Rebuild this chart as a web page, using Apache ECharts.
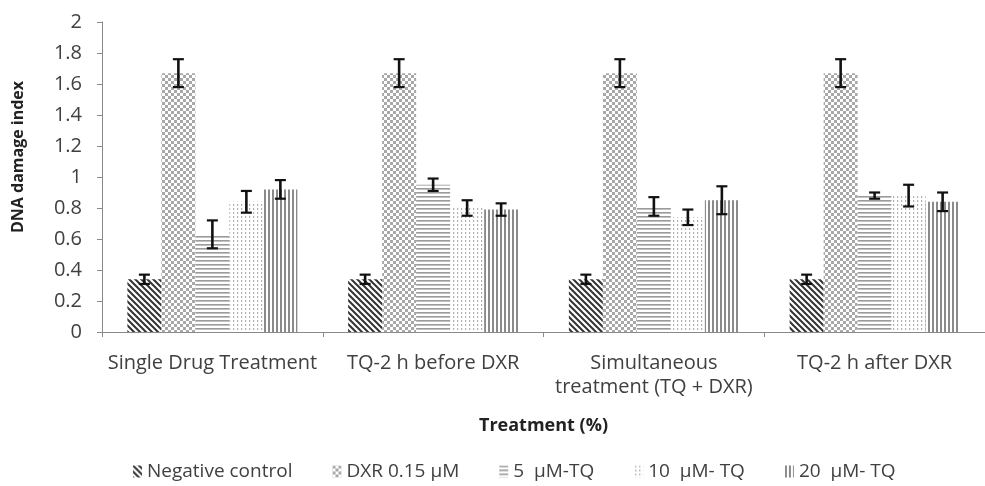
<!DOCTYPE html>
<html>
<head>
<meta charset="utf-8">
<script src="https://cdn.jsdelivr.net/npm/echarts@6/dist/echarts.min.js"></script>
<style>html,body{margin:0;padding:0;background:#fff}#c{width:985px;height:486px}</style>
</head>
<body>
<div id="c"></div>
<script>
const categories = ['Single Drug Treatment', 'TQ-2 h before DXR', 'Simultaneous\ntreatment (TQ + DXR)', 'TQ-2 h after DXR'];
const seriesNames = ['Negative control', 'DXR 0.15 \u00b5M', '5  \u00b5M-TQ', '10  \u00b5M- TQ', '20  \u00b5M- TQ'];
const negControl = [0.34, 0.34, 0.34, 0.34];
const dxr = [1.67, 1.67, 1.67, 1.67];
const tq5 = [0.63, 0.95, 0.81, 0.88];
const tq10 = [0.84, 0.80, 0.74, 0.88];
const tq20 = [0.92, 0.79, 0.85, 0.84];
const negErr = [0.03, 0.03, 0.03, 0.03];
const dxrErr = [0.09, 0.09, 0.09, 0.09];
const tq5Err = [0.09, 0.04, 0.06, 0.02];
const tq10Err = [0.07, 0.05, 0.05, 0.07];
const tq20Err = [0.06, 0.04, 0.09, 0.06];
const yTicks = [0, 0.2, 0.4, 0.6, 0.8, 1, 1.2, 1.4, 1.6, 1.8, 2];

const values = [negControl, dxr, tq5, tq10, tq20];
const errors = [negErr, dxrErr, tq5Err, tq10Err, tq20Err];

function tile(w, h, draw) {
  const c = document.createElement('canvas');
  c.width = w; c.height = h;
  const ctx = c.getContext('2d');
  ctx.fillStyle = '#fff'; ctx.fillRect(0, 0, w, h);
  draw(ctx);
  return { image: c, repeat: 'repeat' };
}
const patterns = [
  tile(6, 6, ctx => { ctx.strokeStyle = '#333'; ctx.lineWidth = 2;
    ctx.beginPath(); ctx.moveTo(-1, -1); ctx.lineTo(7, 7); ctx.moveTo(-4, 2); ctx.lineTo(2, 8); ctx.moveTo(4, -2); ctx.lineTo(8, 2); ctx.stroke(); }),
  tile(6, 6, ctx => { ctx.fillStyle = '#a8a8a8'; ctx.fillRect(0, 0, 3, 3); ctx.fillRect(3, 3, 3, 3); }),
  tile(4, 4, ctx => { ctx.fillStyle = '#9a9a9a'; ctx.fillRect(0, 0, 4, 1.6); }),
  tile(4, 4, ctx => { ctx.fillStyle = '#b0b0b0'; ctx.fillRect(1, 0, 1.2, 2); }),
  tile(4, 4, ctx => { ctx.fillStyle = '#8a8a8a'; ctx.fillRect(0, 0, 2, 4); })
];

const catGap = 0.23;
const series = [];
values.forEach((vals, i) => {
  series.push({
    name: seriesNames[i], type: 'bar', data: vals,
    barGap: 0, barCategoryGap: (catGap * 100) + '%',
    itemStyle: { color: patterns[i] },
    emphasis: { disabled: true }
  });
});
values.forEach((vals, i) => {
  series.push({
    type: 'custom', silent: true, z: 10,
    data: vals.map((v, j) => [j, v, errors[i][j]]),
    renderItem: function (params, api) {
      const catW = api.size([1, 0])[0];
      const bw = catW * (1 - catGap) / 5;
      const center = api.coord([api.value(0), 0]);
      const x = center[0] + (i - 2) * bw;
      const v = api.value(1), e = api.value(2);
      const top = api.coord([api.value(0), v + e])[1];
      const bot = api.coord([api.value(0), v - e])[1];
      const cap = 5.5;
      const st = { stroke: '#111', lineWidth: 2.2 };
      return { type: 'group', children: [
        { type: 'line', shape: { x1: x, y1: top, x2: x, y2: bot }, style: { stroke: '#111', lineWidth: 2.6 } },
        { type: 'line', shape: { x1: x - cap, y1: top, x2: x + cap, y2: top }, style: st },
        { type: 'line', shape: { x1: x - cap, y1: bot, x2: x + cap, y2: bot }, style: st }
      ] };
    }
  });
});

const font = 'Open Sans';
const chart = echarts.init(document.getElementById('c'));
chart.setOption({
  animation: false,
  backgroundColor: '#fff',
  grid: { left: 102, right: -10, top: 22, bottom: 154, containLabel: false },
  legend: {
    data: seriesNames, top: 457, left: 128,
    icon: 'rect', itemWidth: 9, itemHeight: 12, itemGap: 40,
    textStyle: { fontFamily: font, fontSize: 19, color: '#404040' }
  },
  xAxis: {
    type: 'category', data: categories,
    name: 'Treatment (%)', nameLocation: 'middle', nameGap: 85,
    nameTextStyle: { fontFamily: font, fontSize: 18, fontWeight: 'bold', color: '#222' },
    axisLine: { lineStyle: { color: '#8a8a8a', width: 1 } },
    axisTick: { show: true, length: 5, lineStyle: { color: '#8a8a8a' } },
    axisLabel: { fontFamily: font, fontSize: 20, color: '#404040', margin: 19, lineHeight: 24, interval: 0 }
  },
  yAxis: {
    type: 'value', min: 0, max: 2, interval: 0.2,
    name: 'DNA damage index', nameLocation: 'middle', nameGap: 76,
    nameTextStyle: { fontFamily: font, fontSize: 16, fontWeight: 'bold', color: '#222', padding: [0, 0, 0, 40] },
    axisLine: { show: true, lineStyle: { color: '#8a8a8a' } },
    axisTick: { show: true, length: 5, lineStyle: { color: '#8a8a8a' } },
    splitLine: { show: false },
    axisLabel: { fontFamily: font, fontSize: 20, color: '#404040', margin: 20,
      formatter: v => { const t = yTicks.find(k => Math.abs(k - v) < 1e-9); return t === undefined ? '' : String(t); } }
  },
  series: series
});
</script>
</body>
</html>
